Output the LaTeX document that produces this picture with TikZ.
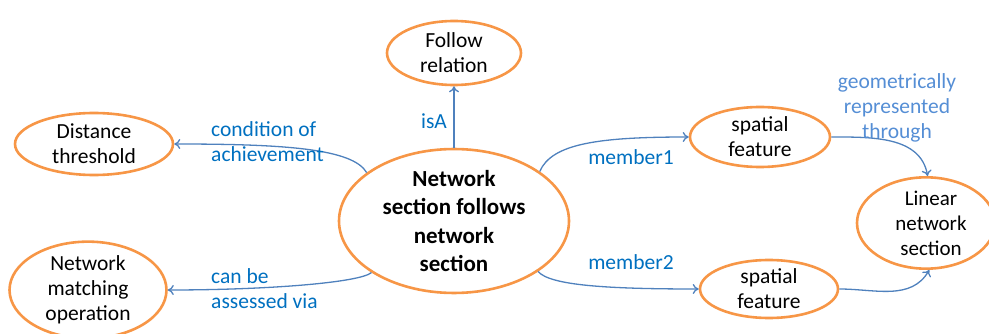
\documentclass[tikz,border=0pt]{standalone}
\usepackage{fontspec}
\setmainfont{Carlito}
\usetikzlibrary{shapes.geometric,arrows.meta}
\definecolor{orng}{HTML}{F79646}
\definecolor{edgeblue}{HTML}{4F81BD}
\definecolor{lblblue}{HTML}{0070C0}
\definecolor{lblblue2}{HTML}{558ED5}
\tikzset{
  concept/.style={ellipse, draw=orng, line width=2.6pt, fill=white, inner sep=0pt, align=center,
    font=\fontsize{21.5}{25}\selectfont},
  rel/.style={draw=edgeblue, line width=1.3pt, -{To[length=6pt,width=10pt]}},
  lbl/.style={text=lblblue, font=\fontsize{21.5}{25}\selectfont, inner sep=0pt},
}
\begin{document}
\begin{tikzpicture}[x=1pt,y=-1pt]
\useasboundingbox (0,0) rectangle (989,334);
\node[concept, minimum width=134pt, minimum height=64pt] (f) at (454,53) {Follow\\relation};
\node[concept, minimum width=158pt, minimum height=62pt] (d) at (94,144) {Distance\\threshold};
\node[concept, minimum width=157pt, minimum height=86pt] (m) at (88,290) {Network\\matching\\operation};
\node[concept, minimum width=230pt, minimum height=128pt, font=\fontsize{23}{28.5}\selectfont\bfseries] (c) at (454,221) {Network\\section follows\\network\\section};
\node[concept, minimum width=140pt, minimum height=60pt] (s1) at (760,137) {spatial\\feature};
\node[concept, minimum width=138pt, minimum height=58pt] (s2) at (769,289) {spatial\\feature};
\node[concept, minimum width=138pt, minimum height=78pt, font=\fontsize{21}{25}\selectfont] (L) at (926,223) {\hspace*{10pt}Linear\\\hspace*{10pt}network\\\hspace*{10pt}section};

\draw[rel] (c.north) -- (f.south);
\draw[rel] (c.151) .. controls +(-14,-24) and +(110,0) .. (d.east);
\draw[rel] (c.212) .. controls +(-12,10) and +(100,0) .. (m.east);
\draw[rel] (c.30) .. controls +(12,-28) and +(-90,0) .. (s1.west);
\draw[rel] (c.-31) .. controls +(12,14) and +(-90,0) .. (s2.west);
\draw[rel] (s1.east) to[out=0,in=100] (L.88);
\draw[rel] (s2.east) to[out=0,in=-120] (L.-86);

\node[lbl] (l1) at (434,121) {isA};
\node[lbl, anchor=west, align=left] (l2) at (211,142) {condition of\\achievement};
\node[lbl, anchor=west, align=left] (l3) at (211,289) {can be\\assessed via};
\node[lbl] (l4) at (631,157) {member1};
\node[lbl] (l5) at (631,262) {member2};
\node[lbl, text=lblblue2, align=center] (l6) at (897,108) {geometrically\\represented\\through};
\end{tikzpicture}
\end{document}
